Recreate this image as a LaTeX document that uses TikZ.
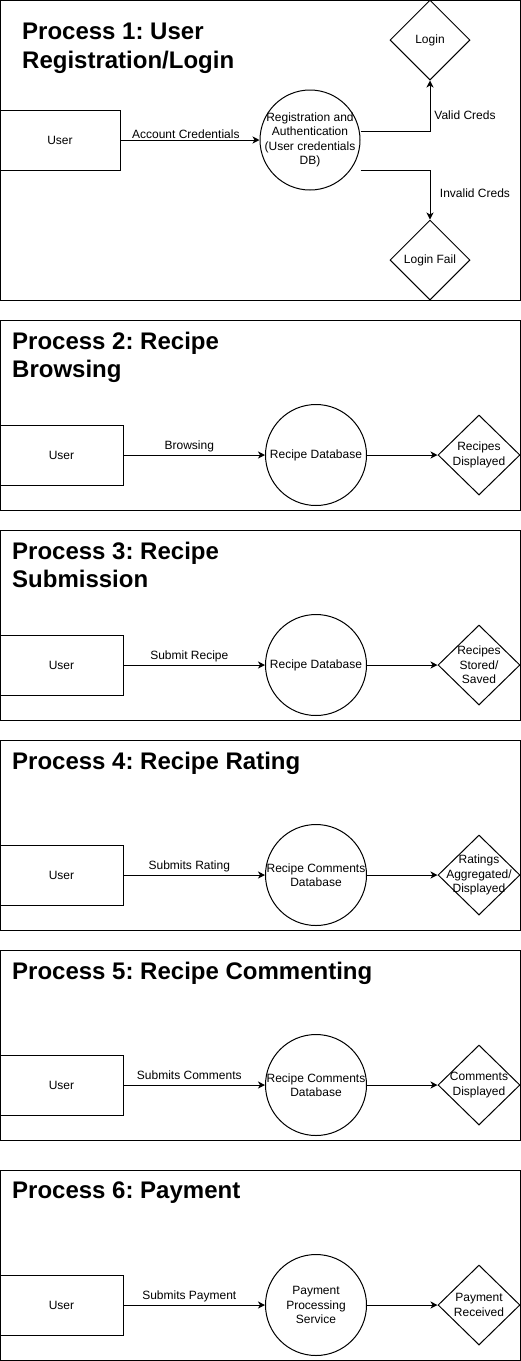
\documentclass[tikz,border=0pt]{standalone}
\usepackage{fontspec}
\setmainfont{Liberation Sans}
\usetikzlibrary{shapes.geometric,arrows.meta}
\frenchspacing
\newcommand\lblfont{\fontsize{12}{14.5}\selectfont}
\newcommand\ttlfont{\fontsize{24}{29}\selectfont\bfseries}
\begin{document}
\begin{tikzpicture}[x=1pt,y=-1pt,
  frame/.style={draw,line width=1pt},
  entity/.style={draw,line width=1pt,minimum width=120pt,minimum height=60pt,inner sep=0pt,font=\lblfont},
  proc/.style={draw,circle,line width=1pt,minimum size=100pt,inner sep=0pt},
  dec/.style={draw,diamond,line width=1pt,minimum width=80pt,minimum height=80pt,inner sep=0pt},
  inl/.style={font=\lblfont,align=center,inner sep=0pt},
  flow/.style={line width=1pt,-{Stealth[length=7pt,width=7pt,inset=2pt]}},
  ttl/.style={anchor=base west,font=\ttlfont,inner sep=0pt},
  elbl/.style={font=\lblfont,inner sep=0pt,anchor=base}]
\useasboundingbox (0,0) rectangle (521,1361);

% ---------- Process 1 ----------
\draw[frame] (0.5,0.5) rectangle (520.5,300.5);
\node[ttl] (t1a) at (22,39) {Process 1: User};
\node[ttl] (t1b) at (22,68) {Registration/Login};
\node[entity] (u1) at (60,140) {User};
\node[proc,label={[inl]center:Registration and\\Authentication\\(User credentials\\DB)}] (c1) at (310,140) {};
\node[dec,label={[inl]center:Login}] (l1) at (430,40) {};
\node[dec,label={[inl]center:Login Fail}] (f1) at (430,260) {};
\draw[flow] (u1.east) -- node[elbl,pos=0.47,yshift=2pt]{Account Credentials} (c1.west);
\draw[flow] ([yshift=9pt]c1.east) -| (l1.south);
\draw[flow] ([yshift=-30pt]c1.east) -| (f1.north);
\node[elbl] (v1) at (465,119) {Valid Creds};
\node[elbl] (i1) at (475,197) {Invalid Creds};

% ---------- Processes 2-6 ----------
\newcommand\procbody[5]{%
  \draw[frame] (0.5,#2+0.5) rectangle (520.5,#2+190.5);
  \node[entity,minimum width=123pt] (u#1) at (61.5,#2+135) {User};
  \node[proc,minimum size=101pt,label={[inl]center:#4}] (c#1) at (316,#2+135) {};
  \node[dec,minimum width=82pt,label={[inl]center:#5}] (d#1) at (479,#2+135) {};
  \draw[flow] (u#1.east) -- node[elbl,pos=0.465,yshift=6pt]{#3} (c#1.west);
  \draw[flow] (c#1.east) -- (d#1.west);
}

\procbody{2}{320}{Browsing}{Recipe Database}{Recipes\\Displayed}
\node[ttl] (t2a) at (12,349) {Process 2: Recipe};
\node[ttl] (t2b) at (12,377) {Browsing};

\procbody{3}{530}{Submit Recipe}{Recipe Database}{Recipes\\Stored/\\Saved}
\node[ttl] (t3a) at (12,559) {Process 3: Recipe};
\node[ttl] (t3b) at (12,587) {Submission};

\procbody{4}{740}{Submits Rating}{Recipe Comments\\Database}{Ratings\\Aggregated/\\Displayed}
\node[ttl] (t4a) at (12,769) {Process 4: Recipe Rating};

\procbody{5}{950}{Submits Comments}{Recipe Comments\\Database}{Comments\\Displayed}
\node[ttl] (t5a) at (12,979) {Process 5: Recipe Commenting};

\procbody{6}{1170}{Submits Payment}{Payment\\Processing\\Service}{Payment\\Received}
\node[ttl] (t6a) at (12,1198) {Process 6: Payment};
\end{tikzpicture}
\end{document}
